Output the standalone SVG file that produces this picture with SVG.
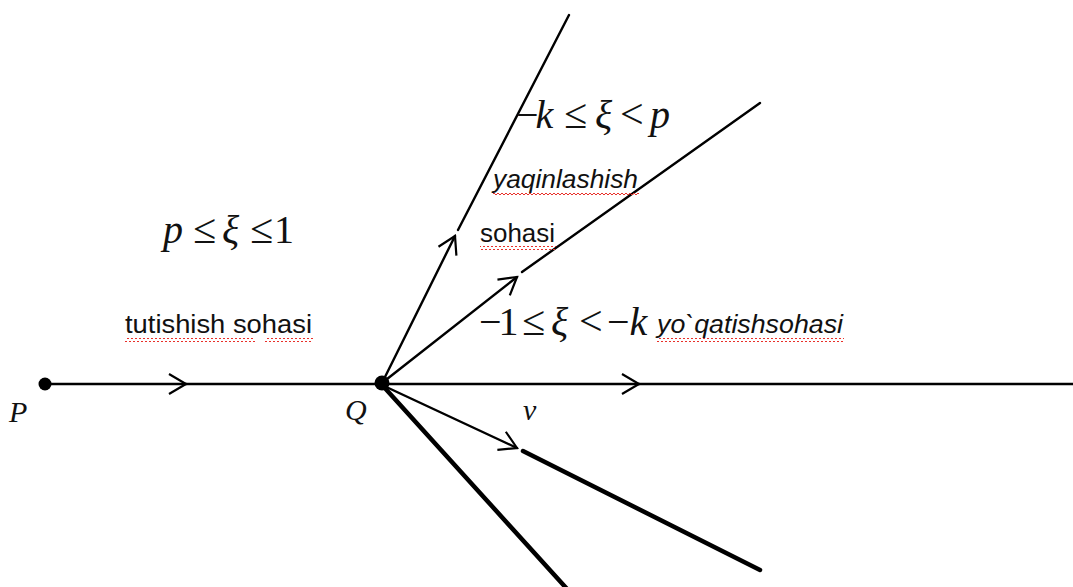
<svg xmlns="http://www.w3.org/2000/svg" width="1073" height="587" viewBox="0 0 1073 587">
  <style>
    .ln{stroke:#000;stroke-width:2.4;fill:none;stroke-linecap:round}
    .thick{stroke:#000;stroke-width:4.5;fill:none;stroke-linecap:round}
    .math{font-family:"Liberation Serif","Times New Roman",serif;font-size:40px;fill:#111}
    .rel{font-size:42px}
    .it{font-style:italic}
    .lbl{font-family:"Liberation Serif","Times New Roman",serif;font-size:30px;font-style:italic;fill:#111}
    .txt{font-family:"Liberation Sans",Arial,sans-serif;font-size:26px;fill:#111}
  </style>
  <defs>
    <marker id="chev" markerUnits="userSpaceOnUse" markerWidth="24" markerHeight="24" refX="20" refY="12" orient="auto" overflow="visible">
      <path d="M3,2 L20,12 L3,22" fill="none" stroke="#000" stroke-width="2.2"/>
    </marker>
    <pattern id="wave" patternUnits="userSpaceOnUse" width="4" height="4">
      <path d="M0,3 L2,1 L4,3" fill="none" stroke="#e8302a" stroke-width="1"/>
    </pattern>
  </defs>

  <g id="connectors">
    <line class="ln" x1="45" y1="384" x2="186" y2="384" marker-end="url(#chev)"/>
    <line class="ln" x1="186" y1="384" x2="382" y2="384"/>
    <line class="ln" x1="382" y1="384" x2="639" y2="384" marker-end="url(#chev)"/>
    <line class="ln" x1="639" y1="384" x2="1073" y2="384"/>
    <line class="ln" x1="382" y1="383" x2="455" y2="236" marker-end="url(#chev)"/>
    <line class="ln" x1="458" y1="230" x2="569" y2="15"/>
    <line class="ln" x1="382" y1="383" x2="517" y2="277" marker-end="url(#chev)"/>
    <line class="ln" x1="522" y1="272" x2="760" y2="103"/>
    <line class="ln" x1="382" y1="385" x2="517" y2="448" marker-end="url(#chev)"/>
    <line class="thick" x1="523" y1="451" x2="760" y2="570"/>
    <line class="thick" x1="383" y1="386" x2="568" y2="590"/>
  </g>

  <g id="node-P">
    <circle cx="45" cy="384" r="6.5" fill="#000"/>
    <text class="lbl" x="9" y="422">P</text>
  </g>
  <g id="node-Q">
    <circle cx="382" cy="383" r="7.5" fill="#000"/>
    <text class="lbl" x="345" y="420">Q</text>
  </g>
  <g id="label-v">
    <text class="lbl" x="523" y="420">v</text>
  </g>

  <g id="region-tutishish">
    <text class="math"><tspan class="it" x="163" y="243">p</tspan><tspan class="rel" x="193" y="243">≤</tspan><tspan class="it" x="222" y="243">ξ</tspan><tspan class="rel" x="250" y="243">≤</tspan><tspan x="274" y="243">1</tspan></text>
    <text class="txt" x="125" y="333" textLength="187" lengthAdjust="spacingAndGlyphs">tutishish sohasi</text>
    <rect x="125" y="338" width="130" height="4" fill="url(#wave)"/>
    <rect x="265" y="338" width="48" height="4" fill="url(#wave)"/>
  </g>

  <g id="region-yaqinlashish">
    <text class="math"><tspan x="516" y="128" letter-spacing="-3">−<tspan class="it">k</tspan></tspan><tspan class="rel" x="564" y="128">≤</tspan><tspan class="it" x="595" y="128">ξ</tspan><tspan class="rel" x="620" y="128">&lt;</tspan><tspan class="it" x="650" y="128">p</tspan></text>
    <text class="txt it" x="493" y="188" textLength="145" lengthAdjust="spacingAndGlyphs">yaqinlashish</text>
    <rect x="493" y="193" width="146" height="4" fill="url(#wave)"/>
    <text class="txt" x="480" y="242" textLength="75" lengthAdjust="spacingAndGlyphs">sohasi</text>
    <rect x="480" y="246" width="76" height="4" fill="url(#wave)"/>
  </g>

  <g id="region-yoqatish">
    <text class="math"><tspan x="479" y="335" letter-spacing="-3">−1</tspan><tspan class="rel" x="522" y="335">≤</tspan><tspan class="it" x="551" y="335">ξ</tspan><tspan class="rel" x="579" y="335">&lt;</tspan><tspan x="607" y="335">−<tspan class="it">k</tspan></tspan></text>
    <text class="txt it" x="657" y="333" textLength="186" lengthAdjust="spacingAndGlyphs">yo`qatishsohasi</text>
    <rect x="657" y="338" width="187" height="4" fill="url(#wave)"/>
  </g>
</svg>
